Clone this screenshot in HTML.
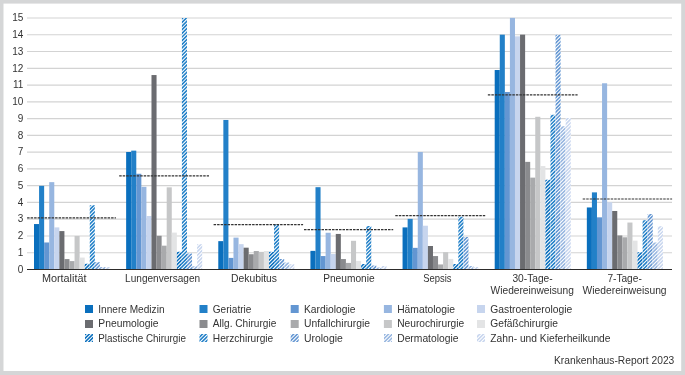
<!DOCTYPE html><html><head><meta charset="utf-8"><style>
html,body{margin:0;padding:0;background:#d5d6d7;}
svg{display:block;font-family:"Liberation Sans", sans-serif;will-change:transform;}
</style></head><body>
<svg width="685" height="375" viewBox="0 0 685 375">
<defs>
<pattern id="h0" patternUnits="userSpaceOnUse" width="2.6" height="2.6" patternTransform="rotate(45)"><rect x="0" y="0" width="2.6" height="2.6" fill="#fff"/><rect x="0" y="0" width="1.55" height="2.6" fill="#0a6fbd"/></pattern>
<pattern id="h1" patternUnits="userSpaceOnUse" width="2.6" height="2.6" patternTransform="rotate(45)"><rect x="0" y="0" width="2.6" height="2.6" fill="#fff"/><rect x="0" y="0" width="1.55" height="2.6" fill="#2280c8"/></pattern>
<pattern id="h2" patternUnits="userSpaceOnUse" width="2.6" height="2.6" patternTransform="rotate(45)"><rect x="0" y="0" width="2.6" height="2.6" fill="#fff"/><rect x="0" y="0" width="1.55" height="2.6" fill="#6396d2"/></pattern>
<pattern id="h3" patternUnits="userSpaceOnUse" width="2.6" height="2.6" patternTransform="rotate(45)"><rect x="0" y="0" width="2.6" height="2.6" fill="#fff"/><rect x="0" y="0" width="1.55" height="2.6" fill="#97b6e0"/></pattern>
<pattern id="h4" patternUnits="userSpaceOnUse" width="2.6" height="2.6" patternTransform="rotate(45)"><rect x="0" y="0" width="2.6" height="2.6" fill="#fff"/><rect x="0" y="0" width="1.55" height="2.6" fill="#c7d5ee"/></pattern>
</defs>
<rect x="0" y="0" width="685" height="375" fill="#d5d6d7"/>
<rect x="3.5" y="3.6" width="677.7" height="367.4" fill="#ffffff"/>
<line x1="27" x2="672" y1="252.69" y2="252.69" stroke="#d3d3d3" stroke-width="1.1"/>
<line x1="27" x2="672" y1="235.93" y2="235.93" stroke="#d3d3d3" stroke-width="1.1"/>
<line x1="27" x2="672" y1="219.17" y2="219.17" stroke="#d3d3d3" stroke-width="1.1"/>
<line x1="27" x2="672" y1="202.41" y2="202.41" stroke="#d3d3d3" stroke-width="1.1"/>
<line x1="27" x2="672" y1="185.65" y2="185.65" stroke="#d3d3d3" stroke-width="1.1"/>
<line x1="27" x2="672" y1="168.89" y2="168.89" stroke="#d3d3d3" stroke-width="1.1"/>
<line x1="27" x2="672" y1="152.13" y2="152.13" stroke="#d3d3d3" stroke-width="1.1"/>
<line x1="27" x2="672" y1="135.37" y2="135.37" stroke="#d3d3d3" stroke-width="1.1"/>
<line x1="27" x2="672" y1="118.61" y2="118.61" stroke="#d3d3d3" stroke-width="1.1"/>
<line x1="27" x2="672" y1="101.85" y2="101.85" stroke="#d3d3d3" stroke-width="1.1"/>
<line x1="27" x2="672" y1="85.09" y2="85.09" stroke="#d3d3d3" stroke-width="1.1"/>
<line x1="27" x2="672" y1="68.33" y2="68.33" stroke="#d3d3d3" stroke-width="1.1"/>
<line x1="27" x2="672" y1="51.57" y2="51.57" stroke="#d3d3d3" stroke-width="1.1"/>
<line x1="27" x2="672" y1="34.81" y2="34.81" stroke="#d3d3d3" stroke-width="1.1"/>
<line x1="27" x2="672" y1="18.05" y2="18.05" stroke="#d3d3d3" stroke-width="1.1"/>
<text x="23.3" y="272.70" font-size="10" fill="#333333" text-anchor="end">0</text>
<text x="23.3" y="255.94" font-size="10" fill="#333333" text-anchor="end">1</text>
<text x="23.3" y="239.18" font-size="10" fill="#333333" text-anchor="end">2</text>
<text x="23.3" y="222.42" font-size="10" fill="#333333" text-anchor="end">3</text>
<text x="23.3" y="205.66" font-size="10" fill="#333333" text-anchor="end">4</text>
<text x="23.3" y="188.90" font-size="10" fill="#333333" text-anchor="end">5</text>
<text x="23.3" y="172.14" font-size="10" fill="#333333" text-anchor="end">6</text>
<text x="23.3" y="155.38" font-size="10" fill="#333333" text-anchor="end">7</text>
<text x="23.3" y="138.62" font-size="10" fill="#333333" text-anchor="end">8</text>
<text x="23.3" y="121.86" font-size="10" fill="#333333" text-anchor="end">9</text>
<text x="23.3" y="105.10" font-size="10" fill="#333333" text-anchor="end">10</text>
<text x="23.3" y="88.34" font-size="10" fill="#333333" text-anchor="end">11</text>
<text x="23.3" y="71.58" font-size="10" fill="#333333" text-anchor="end">12</text>
<text x="23.3" y="54.82" font-size="10" fill="#333333" text-anchor="end">13</text>
<text x="23.3" y="38.06" font-size="10" fill="#333333" text-anchor="end">14</text>
<text x="23.3" y="21.30" font-size="10" fill="#333333" text-anchor="end">15</text>
<rect x="34.00" y="224.05" width="5.07" height="45.25" fill="#0a6fbd"/>
<rect x="39.07" y="185.84" width="5.07" height="83.46" fill="#2280c8"/>
<rect x="44.14" y="242.48" width="5.07" height="26.82" fill="#6396d2"/>
<rect x="49.21" y="182.15" width="5.07" height="87.15" fill="#97b6e0"/>
<rect x="54.28" y="227.40" width="5.07" height="41.90" fill="#c7d5ee"/>
<rect x="59.35" y="231.09" width="5.07" height="38.21" fill="#6b6c70"/>
<rect x="64.42" y="259.08" width="5.07" height="10.22" fill="#8a8b8e"/>
<rect x="69.49" y="261.09" width="5.07" height="8.21" fill="#a9aaac"/>
<rect x="74.56" y="235.95" width="5.07" height="33.35" fill="#c6c7c8"/>
<rect x="79.63" y="257.57" width="5.07" height="11.73" fill="#e3e4e5"/>
<rect x="84.70" y="263.77" width="5.07" height="5.53" fill="#fff"/><path clip-path="url(#c0_10)" stroke="#0a6fbd" stroke-width="1.55" d="M82.70 264.05L91.77 254.98M82.70 267.70L91.77 258.63M82.70 271.35L91.77 262.28M82.70 275.00L91.77 265.93M82.70 278.65L91.77 269.58"/>
<rect x="89.77" y="205.28" width="5.07" height="64.02" fill="#fff"/><path clip-path="url(#c0_11)" stroke="#2280c8" stroke-width="1.55" d="M87.77 204.23L96.84 195.16M87.77 207.88L96.84 198.81M87.77 211.53L96.84 202.46M87.77 215.18L96.84 206.11M87.77 218.83L96.84 209.76M87.77 222.48L96.84 213.41M87.77 226.13L96.84 217.06M87.77 229.78L96.84 220.71M87.77 233.43L96.84 224.36M87.77 237.08L96.84 228.01M87.77 240.73L96.84 231.66M87.77 244.38L96.84 235.31M87.77 248.03L96.84 238.96M87.77 251.68L96.84 242.61M87.77 255.33L96.84 246.26M87.77 258.98L96.84 249.91M87.77 262.63L96.84 253.56M87.77 266.28L96.84 257.21M87.77 269.93L96.84 260.86M87.77 273.58L96.84 264.51M87.77 277.23L96.84 268.16"/>
<rect x="94.84" y="262.26" width="5.07" height="7.04" fill="#fff"/><path clip-path="url(#c0_12)" stroke="#6396d2" stroke-width="1.55" d="M92.84 261.21L101.91 252.14M92.84 264.86L101.91 255.79M92.84 268.51L101.91 259.44M92.84 272.16L101.91 263.09M92.84 275.81L101.91 266.74M92.84 279.46L101.91 270.39"/>
<rect x="99.91" y="266.95" width="5.07" height="2.35" fill="#fff"/><path clip-path="url(#c0_13)" stroke="#97b6e0" stroke-width="1.55" d="M97.91 267.09L106.98 258.02M97.91 270.74L106.98 261.67M97.91 274.39L106.98 265.32M97.91 278.04L106.98 268.97"/>
<rect x="104.98" y="266.95" width="5.07" height="2.35" fill="#fff"/><path clip-path="url(#c0_14)" stroke="#c7d5ee" stroke-width="1.55" d="M102.98 265.67L112.05 256.60M102.98 269.32L112.05 260.25M102.98 272.97L112.05 263.90M102.98 276.62L112.05 267.55"/>
<rect x="126.14" y="151.98" width="5.07" height="117.32" fill="#0a6fbd"/>
<rect x="131.21" y="150.64" width="5.07" height="118.66" fill="#2280c8"/>
<rect x="136.28" y="173.77" width="5.07" height="95.53" fill="#6396d2"/>
<rect x="141.35" y="186.84" width="5.07" height="82.46" fill="#97b6e0"/>
<rect x="146.42" y="216.00" width="5.07" height="53.30" fill="#c7d5ee"/>
<rect x="151.49" y="75.05" width="5.07" height="194.25" fill="#6b6c70"/>
<rect x="156.56" y="235.78" width="5.07" height="33.52" fill="#8a8b8e"/>
<rect x="161.63" y="245.67" width="5.07" height="23.63" fill="#a9aaac"/>
<rect x="166.70" y="187.34" width="5.07" height="81.96" fill="#c6c7c8"/>
<rect x="171.77" y="232.60" width="5.07" height="36.70" fill="#e3e4e5"/>
<rect x="176.84" y="251.87" width="5.07" height="17.43" fill="#fff"/><path clip-path="url(#c1_10)" stroke="#0a6fbd" stroke-width="1.55" d="M174.84 252.21L183.91 243.14M174.84 255.86L183.91 246.79M174.84 259.51L183.91 250.44M174.84 263.16L183.91 254.09M174.84 266.81L183.91 257.74M174.84 270.46L183.91 261.39M174.84 274.11L183.91 265.04M174.84 277.76L183.91 268.69"/>
<rect x="181.91" y="17.90" width="5.07" height="251.40" fill="#fff"/><path clip-path="url(#c1_11)" stroke="#2280c8" stroke-width="1.55" d="M179.91 17.19L188.98 8.12M179.91 20.84L188.98 11.77M179.91 24.49L188.98 15.42M179.91 28.14L188.98 19.07M179.91 31.79L188.98 22.72M179.91 35.44L188.98 26.37M179.91 39.09L188.98 30.02M179.91 42.74L188.98 33.67M179.91 46.39L188.98 37.32M179.91 50.04L188.98 40.97M179.91 53.69L188.98 44.62M179.91 57.34L188.98 48.27M179.91 60.99L188.98 51.92M179.91 64.64L188.98 55.57M179.91 68.29L188.98 59.22M179.91 71.94L188.98 62.87M179.91 75.59L188.98 66.52M179.91 79.24L188.98 70.17M179.91 82.89L188.98 73.82M179.91 86.54L188.98 77.47M179.91 90.19L188.98 81.12M179.91 93.84L188.98 84.77M179.91 97.49L188.98 88.42M179.91 101.14L188.98 92.07M179.91 104.79L188.98 95.72M179.91 108.44L188.98 99.37M179.91 112.09L188.98 103.02M179.91 115.74L188.98 106.67M179.91 119.39L188.98 110.32M179.91 123.04L188.98 113.97M179.91 126.69L188.98 117.62M179.91 130.34L188.98 121.27M179.91 133.99L188.98 124.92M179.91 137.64L188.98 128.57M179.91 141.29L188.98 132.22M179.91 144.94L188.98 135.87M179.91 148.59L188.98 139.52M179.91 152.24L188.98 143.17M179.91 155.89L188.98 146.82M179.91 159.54L188.98 150.47M179.91 163.19L188.98 154.12M179.91 166.84L188.98 157.77M179.91 170.49L188.98 161.42M179.91 174.14L188.98 165.07M179.91 177.79L188.98 168.72M179.91 181.44L188.98 172.37M179.91 185.09L188.98 176.02M179.91 188.74L188.98 179.67M179.91 192.39L188.98 183.32M179.91 196.04L188.98 186.97M179.91 199.69L188.98 190.62M179.91 203.34L188.98 194.27M179.91 206.99L188.98 197.92M179.91 210.64L188.98 201.57M179.91 214.29L188.98 205.22M179.91 217.94L188.98 208.87M179.91 221.59L188.98 212.52M179.91 225.24L188.98 216.17M179.91 228.89L188.98 219.82M179.91 232.54L188.98 223.47M179.91 236.19L188.98 227.12M179.91 239.84L188.98 230.77M179.91 243.49L188.98 234.42M179.91 247.14L188.98 238.07M179.91 250.79L188.98 241.72M179.91 254.44L188.98 245.37M179.91 258.09L188.98 249.02M179.91 261.74L188.98 252.67M179.91 265.39L188.98 256.32M179.91 269.04L188.98 259.97M179.91 272.69L188.98 263.62M179.91 276.34L188.98 267.27M179.91 279.99L188.98 270.92"/>
<rect x="186.98" y="253.55" width="5.07" height="15.75" fill="#fff"/><path clip-path="url(#c1_12)" stroke="#6396d2" stroke-width="1.55" d="M184.98 253.02L194.05 243.95M184.98 256.67L194.05 247.60M184.98 260.32L194.05 251.25M184.98 263.97L194.05 254.90M184.98 267.62L194.05 258.55M184.98 271.27L194.05 262.20M184.98 274.92L194.05 265.85M184.98 278.57L194.05 269.50"/>
<rect x="192.05" y="266.28" width="5.07" height="3.02" fill="#fff"/><path clip-path="url(#c1_13)" stroke="#97b6e0" stroke-width="1.55" d="M190.05 266.20L199.12 257.13M190.05 269.85L199.12 260.78M190.05 273.50L199.12 264.43M190.05 277.15L199.12 268.08"/>
<rect x="197.12" y="244.16" width="5.07" height="25.14" fill="#fff"/><path clip-path="url(#c1_14)" stroke="#c7d5ee" stroke-width="1.55" d="M195.12 242.88L204.19 233.81M195.12 246.53L204.19 237.46M195.12 250.18L204.19 241.11M195.12 253.83L204.19 244.76M195.12 257.48L204.19 248.41M195.12 261.13L204.19 252.06M195.12 264.78L204.19 255.71M195.12 268.43L204.19 259.36M195.12 272.08L204.19 263.01M195.12 275.73L204.19 266.66M195.12 279.38L204.19 270.31"/>
<rect x="218.28" y="241.14" width="5.07" height="28.16" fill="#0a6fbd"/>
<rect x="223.35" y="119.97" width="5.07" height="149.33" fill="#2280c8"/>
<rect x="228.42" y="257.90" width="5.07" height="11.40" fill="#6396d2"/>
<rect x="233.49" y="237.62" width="5.07" height="31.68" fill="#97b6e0"/>
<rect x="238.56" y="244.16" width="5.07" height="25.14" fill="#c7d5ee"/>
<rect x="243.63" y="247.68" width="5.07" height="21.62" fill="#6b6c70"/>
<rect x="248.70" y="254.22" width="5.07" height="15.08" fill="#8a8b8e"/>
<rect x="253.77" y="251.03" width="5.07" height="18.27" fill="#a9aaac"/>
<rect x="258.84" y="251.87" width="5.07" height="17.43" fill="#c6c7c8"/>
<rect x="263.91" y="251.03" width="5.07" height="18.27" fill="#e3e4e5"/>
<rect x="268.98" y="251.87" width="5.07" height="17.43" fill="#fff"/><path clip-path="url(#c2_10)" stroke="#0a6fbd" stroke-width="1.55" d="M266.98 251.32L276.05 242.25M266.98 254.97L276.05 245.90M266.98 258.62L276.05 249.55M266.98 262.27L276.05 253.20M266.98 265.92L276.05 256.85M266.98 269.57L276.05 260.50M266.98 273.22L276.05 264.15M266.98 276.87L276.05 267.80"/>
<rect x="274.05" y="224.38" width="5.07" height="44.92" fill="#fff"/><path clip-path="url(#c2_11)" stroke="#2280c8" stroke-width="1.55" d="M272.05 224.35L281.12 215.28M272.05 228.00L281.12 218.93M272.05 231.65L281.12 222.58M272.05 235.30L281.12 226.23M272.05 238.95L281.12 229.88M272.05 242.60L281.12 233.53M272.05 246.25L281.12 237.18M272.05 249.90L281.12 240.83M272.05 253.55L281.12 244.48M272.05 257.20L281.12 248.13M272.05 260.85L281.12 251.78M272.05 264.50L281.12 255.43M272.05 268.15L281.12 259.08M272.05 271.80L281.12 262.73M272.05 275.45L281.12 266.38M272.05 279.10L281.12 270.03"/>
<rect x="279.12" y="259.08" width="5.07" height="10.22" fill="#fff"/><path clip-path="url(#c2_12)" stroke="#6396d2" stroke-width="1.55" d="M277.12 259.43L286.19 250.36M277.12 263.08L286.19 254.01M277.12 266.73L286.19 257.66M277.12 270.38L286.19 261.31M277.12 274.03L286.19 264.96M277.12 277.68L286.19 268.61"/>
<rect x="284.19" y="262.43" width="5.07" height="6.87" fill="#fff"/><path clip-path="url(#c2_13)" stroke="#97b6e0" stroke-width="1.55" d="M282.19 261.66L291.26 252.59M282.19 265.31L291.26 256.24M282.19 268.96L291.26 259.89M282.19 272.61L291.26 263.54M282.19 276.26L291.26 267.19M282.19 279.91L291.26 270.84"/>
<rect x="289.26" y="264.27" width="5.07" height="5.03" fill="#fff"/><path clip-path="url(#c2_14)" stroke="#c7d5ee" stroke-width="1.55" d="M287.26 263.89L296.33 254.82M287.26 267.54L296.33 258.47M287.26 271.19L296.33 262.12M287.26 274.84L296.33 265.77M287.26 278.49L296.33 269.42"/>
<rect x="310.42" y="250.86" width="5.07" height="18.44" fill="#0a6fbd"/>
<rect x="315.49" y="187.18" width="5.07" height="82.12" fill="#2280c8"/>
<rect x="320.56" y="256.06" width="5.07" height="13.24" fill="#6396d2"/>
<rect x="325.63" y="232.76" width="5.07" height="36.54" fill="#97b6e0"/>
<rect x="330.70" y="254.05" width="5.07" height="15.25" fill="#c7d5ee"/>
<rect x="335.77" y="233.94" width="5.07" height="35.36" fill="#6b6c70"/>
<rect x="340.84" y="259.08" width="5.07" height="10.22" fill="#8a8b8e"/>
<rect x="345.91" y="262.93" width="5.07" height="6.37" fill="#a9aaac"/>
<rect x="350.98" y="240.81" width="5.07" height="28.49" fill="#c6c7c8"/>
<rect x="356.05" y="260.92" width="5.07" height="8.38" fill="#e3e4e5"/>
<rect x="361.12" y="263.94" width="5.07" height="5.36" fill="#fff"/><path clip-path="url(#c3_10)" stroke="#0a6fbd" stroke-width="1.55" d="M359.12 265.03L368.19 255.96M359.12 268.68L368.19 259.61M359.12 272.33L368.19 263.26M359.12 275.98L368.19 266.91M359.12 279.63L368.19 270.56"/>
<rect x="366.19" y="225.89" width="5.07" height="43.41" fill="#fff"/><path clip-path="url(#c3_11)" stroke="#2280c8" stroke-width="1.55" d="M364.19 227.11L373.26 218.04M364.19 230.76L373.26 221.69M364.19 234.41L373.26 225.34M364.19 238.06L373.26 228.99M364.19 241.71L373.26 232.64M364.19 245.36L373.26 236.29M364.19 249.01L373.26 239.94M364.19 252.66L373.26 243.59M364.19 256.31L373.26 247.24M364.19 259.96L373.26 250.89M364.19 263.61L373.26 254.54M364.19 267.26L373.26 258.19M364.19 270.91L373.26 261.84M364.19 274.56L373.26 265.49M364.19 278.21L373.26 269.14"/>
<rect x="371.26" y="265.61" width="5.07" height="3.69" fill="#fff"/><path clip-path="url(#c3_12)" stroke="#6396d2" stroke-width="1.55" d="M369.26 265.84L378.33 256.77M369.26 269.49L378.33 260.42M369.26 273.14L378.33 264.07M369.26 276.79L378.33 267.72"/>
<rect x="376.33" y="267.46" width="5.07" height="1.84" fill="#fff"/><path clip-path="url(#c3_13)" stroke="#97b6e0" stroke-width="1.55" d="M374.33 268.07L383.40 259.00M374.33 271.72L383.40 262.65M374.33 275.37L383.40 266.30M374.33 279.02L383.40 269.95"/>
<rect x="381.40" y="265.95" width="5.07" height="3.35" fill="#fff"/><path clip-path="url(#c3_14)" stroke="#c7d5ee" stroke-width="1.55" d="M379.40 266.65L388.47 257.58M379.40 270.30L388.47 261.23M379.40 273.95L388.47 264.88M379.40 277.60L388.47 268.53"/>
<rect x="402.56" y="227.40" width="5.07" height="41.90" fill="#0a6fbd"/>
<rect x="407.63" y="218.85" width="5.07" height="50.45" fill="#2280c8"/>
<rect x="412.70" y="247.85" width="5.07" height="21.45" fill="#6396d2"/>
<rect x="417.77" y="151.98" width="5.07" height="117.32" fill="#97b6e0"/>
<rect x="422.84" y="225.72" width="5.07" height="43.58" fill="#c7d5ee"/>
<rect x="427.91" y="246.00" width="5.07" height="23.30" fill="#6b6c70"/>
<rect x="432.98" y="256.06" width="5.07" height="13.24" fill="#8a8b8e"/>
<rect x="438.05" y="264.44" width="5.07" height="4.86" fill="#a9aaac"/>
<rect x="443.12" y="252.20" width="5.07" height="17.10" fill="#c6c7c8"/>
<rect x="448.19" y="258.91" width="5.07" height="10.39" fill="#e3e4e5"/>
<rect x="453.26" y="263.94" width="5.07" height="5.36" fill="#fff"/><path clip-path="url(#c4_10)" stroke="#0a6fbd" stroke-width="1.55" d="M451.26 264.14L460.33 255.07M451.26 267.79L460.33 258.72M451.26 271.44L460.33 262.37M451.26 275.09L460.33 266.02M451.26 278.74L460.33 269.67"/>
<rect x="458.33" y="216.84" width="5.07" height="52.46" fill="#fff"/><path clip-path="url(#c4_11)" stroke="#2280c8" stroke-width="1.55" d="M456.33 215.27L465.40 206.20M456.33 218.92L465.40 209.85M456.33 222.57L465.40 213.50M456.33 226.22L465.40 217.15M456.33 229.87L465.40 220.80M456.33 233.52L465.40 224.45M456.33 237.17L465.40 228.10M456.33 240.82L465.40 231.75M456.33 244.47L465.40 235.40M456.33 248.12L465.40 239.05M456.33 251.77L465.40 242.70M456.33 255.42L465.40 246.35M456.33 259.07L465.40 250.00M456.33 262.72L465.40 253.65M456.33 266.37L465.40 257.30M456.33 270.02L465.40 260.95M456.33 273.67L465.40 264.60M456.33 277.32L465.40 268.25"/>
<rect x="463.40" y="237.12" width="5.07" height="32.18" fill="#fff"/><path clip-path="url(#c4_12)" stroke="#6396d2" stroke-width="1.55" d="M461.40 235.75L470.47 226.68M461.40 239.40L470.47 230.33M461.40 243.05L470.47 233.98M461.40 246.70L470.47 237.63M461.40 250.35L470.47 241.28M461.40 254.00L470.47 244.93M461.40 257.65L470.47 248.58M461.40 261.30L470.47 252.23M461.40 264.95L470.47 255.88M461.40 268.60L470.47 259.53M461.40 272.25L470.47 263.18M461.40 275.90L470.47 266.83M461.40 279.55L470.47 270.48"/>
<rect x="468.47" y="265.95" width="5.07" height="3.35" fill="#fff"/><path clip-path="url(#c4_13)" stroke="#97b6e0" stroke-width="1.55" d="M466.47 267.18L475.54 258.11M466.47 270.83L475.54 261.76M466.47 274.48L475.54 265.41M466.47 278.13L475.54 269.06"/>
<rect x="473.54" y="267.12" width="5.07" height="2.18" fill="#fff"/><path clip-path="url(#c4_14)" stroke="#c7d5ee" stroke-width="1.55" d="M471.54 265.76L480.61 256.69M471.54 269.41L480.61 260.34M471.54 273.06L480.61 263.99M471.54 276.71L480.61 267.64"/>
<rect x="494.70" y="70.02" width="5.07" height="199.28" fill="#0a6fbd"/>
<rect x="499.77" y="34.66" width="5.07" height="234.64" fill="#2280c8"/>
<rect x="504.84" y="91.98" width="5.07" height="177.32" fill="#6396d2"/>
<rect x="509.91" y="17.90" width="5.07" height="251.40" fill="#97b6e0"/>
<rect x="514.98" y="36.34" width="5.07" height="232.96" fill="#c7d5ee"/>
<rect x="520.05" y="34.66" width="5.07" height="234.64" fill="#6b6c70"/>
<rect x="525.12" y="161.87" width="5.07" height="107.43" fill="#8a8b8e"/>
<rect x="530.19" y="177.62" width="5.07" height="91.68" fill="#a9aaac"/>
<rect x="535.26" y="116.78" width="5.07" height="152.52" fill="#c6c7c8"/>
<rect x="540.33" y="166.06" width="5.07" height="103.24" fill="#e3e4e5"/>
<rect x="545.40" y="179.80" width="5.07" height="89.50" fill="#fff"/><path clip-path="url(#c5_10)" stroke="#0a6fbd" stroke-width="1.55" d="M543.40 179.30L552.47 170.23M543.40 182.95L552.47 173.88M543.40 186.60L552.47 177.53M543.40 190.25L552.47 181.18M543.40 193.90L552.47 184.83M543.40 197.55L552.47 188.48M543.40 201.20L552.47 192.13M543.40 204.85L552.47 195.78M543.40 208.50L552.47 199.43M543.40 212.15L552.47 203.08M543.40 215.80L552.47 206.73M543.40 219.45L552.47 210.38M543.40 223.10L552.47 214.03M543.40 226.75L552.47 217.68M543.40 230.40L552.47 221.33M543.40 234.05L552.47 224.98M543.40 237.70L552.47 228.63M543.40 241.35L552.47 232.28M543.40 245.00L552.47 235.93M543.40 248.65L552.47 239.58M543.40 252.30L552.47 243.23M543.40 255.95L552.47 246.88M543.40 259.60L552.47 250.53M543.40 263.25L552.47 254.18M543.40 266.90L552.47 257.83M543.40 270.55L552.47 261.48M543.40 274.20L552.47 265.13M543.40 277.85L552.47 268.78"/>
<rect x="550.47" y="114.77" width="5.07" height="154.53" fill="#fff"/><path clip-path="url(#c5_11)" stroke="#2280c8" stroke-width="1.55" d="M548.47 115.83L557.54 106.76M548.47 119.48L557.54 110.41M548.47 123.13L557.54 114.06M548.47 126.78L557.54 117.71M548.47 130.43L557.54 121.36M548.47 134.08L557.54 125.01M548.47 137.73L557.54 128.66M548.47 141.38L557.54 132.31M548.47 145.03L557.54 135.96M548.47 148.68L557.54 139.61M548.47 152.33L557.54 143.26M548.47 155.98L557.54 146.91M548.47 159.63L557.54 150.56M548.47 163.28L557.54 154.21M548.47 166.93L557.54 157.86M548.47 170.58L557.54 161.51M548.47 174.23L557.54 165.16M548.47 177.88L557.54 168.81M548.47 181.53L557.54 172.46M548.47 185.18L557.54 176.11M548.47 188.83L557.54 179.76M548.47 192.48L557.54 183.41M548.47 196.13L557.54 187.06M548.47 199.78L557.54 190.71M548.47 203.43L557.54 194.36M548.47 207.08L557.54 198.01M548.47 210.73L557.54 201.66M548.47 214.38L557.54 205.31M548.47 218.03L557.54 208.96M548.47 221.68L557.54 212.61M548.47 225.33L557.54 216.26M548.47 228.98L557.54 219.91M548.47 232.63L557.54 223.56M548.47 236.28L557.54 227.21M548.47 239.93L557.54 230.86M548.47 243.58L557.54 234.51M548.47 247.23L557.54 238.16M548.47 250.88L557.54 241.81M548.47 254.53L557.54 245.46M548.47 258.18L557.54 249.11M548.47 261.83L557.54 252.76M548.47 265.48L557.54 256.41M548.47 269.13L557.54 260.06M548.47 272.78L557.54 263.71M548.47 276.43L557.54 267.36"/>
<rect x="555.54" y="34.66" width="5.07" height="234.64" fill="#fff"/><path clip-path="url(#c5_12)" stroke="#6396d2" stroke-width="1.55" d="M553.54 34.11L562.61 25.04M553.54 37.76L562.61 28.69M553.54 41.41L562.61 32.34M553.54 45.06L562.61 35.99M553.54 48.71L562.61 39.64M553.54 52.36L562.61 43.29M553.54 56.01L562.61 46.94M553.54 59.66L562.61 50.59M553.54 63.31L562.61 54.24M553.54 66.96L562.61 57.89M553.54 70.61L562.61 61.54M553.54 74.26L562.61 65.19M553.54 77.91L562.61 68.84M553.54 81.56L562.61 72.49M553.54 85.21L562.61 76.14M553.54 88.86L562.61 79.79M553.54 92.51L562.61 83.44M553.54 96.16L562.61 87.09M553.54 99.81L562.61 90.74M553.54 103.46L562.61 94.39M553.54 107.11L562.61 98.04M553.54 110.76L562.61 101.69M553.54 114.41L562.61 105.34M553.54 118.06L562.61 108.99M553.54 121.71L562.61 112.64M553.54 125.36L562.61 116.29M553.54 129.01L562.61 119.94M553.54 132.66L562.61 123.59M553.54 136.31L562.61 127.24M553.54 139.96L562.61 130.89M553.54 143.61L562.61 134.54M553.54 147.26L562.61 138.19M553.54 150.91L562.61 141.84M553.54 154.56L562.61 145.49M553.54 158.21L562.61 149.14M553.54 161.86L562.61 152.79M553.54 165.51L562.61 156.44M553.54 169.16L562.61 160.09M553.54 172.81L562.61 163.74M553.54 176.46L562.61 167.39M553.54 180.11L562.61 171.04M553.54 183.76L562.61 174.69M553.54 187.41L562.61 178.34M553.54 191.06L562.61 181.99M553.54 194.71L562.61 185.64M553.54 198.36L562.61 189.29M553.54 202.01L562.61 192.94M553.54 205.66L562.61 196.59M553.54 209.31L562.61 200.24M553.54 212.96L562.61 203.89M553.54 216.61L562.61 207.54M553.54 220.26L562.61 211.19M553.54 223.91L562.61 214.84M553.54 227.56L562.61 218.49M553.54 231.21L562.61 222.14M553.54 234.86L562.61 225.79M553.54 238.51L562.61 229.44M553.54 242.16L562.61 233.09M553.54 245.81L562.61 236.74M553.54 249.46L562.61 240.39M553.54 253.11L562.61 244.04M553.54 256.76L562.61 247.69M553.54 260.41L562.61 251.34M553.54 264.06L562.61 254.99M553.54 267.71L562.61 258.64M553.54 271.36L562.61 262.29M553.54 275.01L562.61 265.94M553.54 278.66L562.61 269.59"/>
<rect x="560.61" y="126.34" width="5.07" height="142.96" fill="#fff"/><path clip-path="url(#c5_13)" stroke="#97b6e0" stroke-width="1.55" d="M558.61 127.59L567.68 118.52M558.61 131.24L567.68 122.17M558.61 134.89L567.68 125.82M558.61 138.54L567.68 129.47M558.61 142.19L567.68 133.12M558.61 145.84L567.68 136.77M558.61 149.49L567.68 140.42M558.61 153.14L567.68 144.07M558.61 156.79L567.68 147.72M558.61 160.44L567.68 151.37M558.61 164.09L567.68 155.02M558.61 167.74L567.68 158.67M558.61 171.39L567.68 162.32M558.61 175.04L567.68 165.97M558.61 178.69L567.68 169.62M558.61 182.34L567.68 173.27M558.61 185.99L567.68 176.92M558.61 189.64L567.68 180.57M558.61 193.29L567.68 184.22M558.61 196.94L567.68 187.87M558.61 200.59L567.68 191.52M558.61 204.24L567.68 195.17M558.61 207.89L567.68 198.82M558.61 211.54L567.68 202.47M558.61 215.19L567.68 206.12M558.61 218.84L567.68 209.77M558.61 222.49L567.68 213.42M558.61 226.14L567.68 217.07M558.61 229.79L567.68 220.72M558.61 233.44L567.68 224.37M558.61 237.09L567.68 228.02M558.61 240.74L567.68 231.67M558.61 244.39L567.68 235.32M558.61 248.04L567.68 238.97M558.61 251.69L567.68 242.62M558.61 255.34L567.68 246.27M558.61 258.99L567.68 249.92M558.61 262.64L567.68 253.57M558.61 266.29L567.68 257.22M558.61 269.94L567.68 260.87M558.61 273.59L567.68 264.52M558.61 277.24L567.68 268.17"/>
<rect x="565.68" y="117.96" width="5.07" height="151.34" fill="#fff"/><path clip-path="url(#c5_14)" stroke="#c7d5ee" stroke-width="1.55" d="M563.68 118.87L572.75 109.80M563.68 122.52L572.75 113.45M563.68 126.17L572.75 117.10M563.68 129.82L572.75 120.75M563.68 133.47L572.75 124.40M563.68 137.12L572.75 128.05M563.68 140.77L572.75 131.70M563.68 144.42L572.75 135.35M563.68 148.07L572.75 139.00M563.68 151.72L572.75 142.65M563.68 155.37L572.75 146.30M563.68 159.02L572.75 149.95M563.68 162.67L572.75 153.60M563.68 166.32L572.75 157.25M563.68 169.97L572.75 160.90M563.68 173.62L572.75 164.55M563.68 177.27L572.75 168.20M563.68 180.92L572.75 171.85M563.68 184.57L572.75 175.50M563.68 188.22L572.75 179.15M563.68 191.87L572.75 182.80M563.68 195.52L572.75 186.45M563.68 199.17L572.75 190.10M563.68 202.82L572.75 193.75M563.68 206.47L572.75 197.40M563.68 210.12L572.75 201.05M563.68 213.77L572.75 204.70M563.68 217.42L572.75 208.35M563.68 221.07L572.75 212.00M563.68 224.72L572.75 215.65M563.68 228.37L572.75 219.30M563.68 232.02L572.75 222.95M563.68 235.67L572.75 226.60M563.68 239.32L572.75 230.25M563.68 242.97L572.75 233.90M563.68 246.62L572.75 237.55M563.68 250.27L572.75 241.20M563.68 253.92L572.75 244.85M563.68 257.57L572.75 248.50M563.68 261.22L572.75 252.15M563.68 264.87L572.75 255.80M563.68 268.52L572.75 259.45M563.68 272.17L572.75 263.10M563.68 275.82L572.75 266.75M563.68 279.47L572.75 270.40"/>
<rect x="586.84" y="207.46" width="5.07" height="61.84" fill="#0a6fbd"/>
<rect x="591.91" y="192.37" width="5.07" height="76.93" fill="#2280c8"/>
<rect x="596.98" y="217.34" width="5.07" height="51.96" fill="#6396d2"/>
<rect x="602.05" y="83.26" width="5.07" height="186.04" fill="#97b6e0"/>
<rect x="607.12" y="202.26" width="5.07" height="67.04" fill="#c7d5ee"/>
<rect x="612.19" y="210.98" width="5.07" height="58.32" fill="#6b6c70"/>
<rect x="617.26" y="235.44" width="5.07" height="33.86" fill="#8a8b8e"/>
<rect x="622.33" y="237.29" width="5.07" height="32.01" fill="#a9aaac"/>
<rect x="627.40" y="222.54" width="5.07" height="46.76" fill="#c6c7c8"/>
<rect x="632.47" y="240.64" width="5.07" height="28.66" fill="#e3e4e5"/>
<rect x="637.54" y="252.20" width="5.07" height="17.10" fill="#fff"/><path clip-path="url(#c6_10)" stroke="#0a6fbd" stroke-width="1.55" d="M635.54 251.41L644.61 242.34M635.54 255.06L644.61 245.99M635.54 258.71L644.61 249.64M635.54 262.36L644.61 253.29M635.54 266.01L644.61 256.94M635.54 269.66L644.61 260.59M635.54 273.31L644.61 264.24M635.54 276.96L644.61 267.89"/>
<rect x="642.61" y="220.19" width="5.07" height="49.11" fill="#fff"/><path clip-path="url(#c6_11)" stroke="#2280c8" stroke-width="1.55" d="M640.61 220.79L649.68 211.72M640.61 224.44L649.68 215.37M640.61 228.09L649.68 219.02M640.61 231.74L649.68 222.67M640.61 235.39L649.68 226.32M640.61 239.04L649.68 229.97M640.61 242.69L649.68 233.62M640.61 246.34L649.68 237.27M640.61 249.99L649.68 240.92M640.61 253.64L649.68 244.57M640.61 257.29L649.68 248.22M640.61 260.94L649.68 251.87M640.61 264.59L649.68 255.52M640.61 268.24L649.68 259.17M640.61 271.89L649.68 262.82M640.61 275.54L649.68 266.47M640.61 279.19L649.68 270.12"/>
<rect x="647.68" y="213.99" width="5.07" height="55.31" fill="#fff"/><path clip-path="url(#c6_12)" stroke="#6396d2" stroke-width="1.55" d="M645.68 215.72L654.75 206.65M645.68 219.37L654.75 210.30M645.68 223.02L654.75 213.95M645.68 226.67L654.75 217.60M645.68 230.32L654.75 221.25M645.68 233.97L654.75 224.90M645.68 237.62L654.75 228.55M645.68 241.27L654.75 232.20M645.68 244.92L654.75 235.85M645.68 248.57L654.75 239.50M645.68 252.22L654.75 243.15M645.68 255.87L654.75 246.80M645.68 259.52L654.75 250.45M645.68 263.17L654.75 254.10M645.68 266.82L654.75 257.75M645.68 270.47L654.75 261.40M645.68 274.12L654.75 265.05M645.68 277.77L654.75 268.70"/>
<rect x="652.75" y="242.48" width="5.07" height="26.82" fill="#fff"/><path clip-path="url(#c6_13)" stroke="#97b6e0" stroke-width="1.55" d="M650.75 243.50L659.82 234.43M650.75 247.15L659.82 238.08M650.75 250.80L659.82 241.73M650.75 254.45L659.82 245.38M650.75 258.10L659.82 249.03M650.75 261.75L659.82 252.68M650.75 265.40L659.82 256.33M650.75 269.05L659.82 259.98M650.75 272.70L659.82 263.63M650.75 276.35L659.82 267.28M650.75 280.00L659.82 270.93"/>
<rect x="657.82" y="226.23" width="5.07" height="43.07" fill="#fff"/><path clip-path="url(#c6_14)" stroke="#c7d5ee" stroke-width="1.55" d="M655.82 227.48L664.89 218.41M655.82 231.13L664.89 222.06M655.82 234.78L664.89 225.71M655.82 238.43L664.89 229.36M655.82 242.08L664.89 233.01M655.82 245.73L664.89 236.66M655.82 249.38L664.89 240.31M655.82 253.03L664.89 243.96M655.82 256.68L664.89 247.61M655.82 260.33L664.89 251.26M655.82 263.98L664.89 254.91M655.82 267.63L664.89 258.56M655.82 271.28L664.89 262.21M655.82 274.93L664.89 265.86M655.82 278.58L664.89 269.51"/>
<line x1="27" x2="672" y1="269.5" y2="269.5" stroke="#2d2b2a" stroke-width="1.05"/>
<line x1="27.10" x2="115.90" y1="217.90" y2="217.90" stroke="#333333" stroke-width="1.2" stroke-dasharray="2.5 1.0"/>
<line x1="119.20" x2="209.00" y1="175.87" y2="175.87" stroke="#333333" stroke-width="1.2" stroke-dasharray="2.5 1.0"/>
<line x1="213.60" x2="303.10" y1="224.57" y2="224.57" stroke="#333333" stroke-width="1.2" stroke-dasharray="2.5 1.0"/>
<line x1="304.00" x2="393.20" y1="229.55" y2="229.55" stroke="#333333" stroke-width="1.2" stroke-dasharray="2.5 1.0"/>
<line x1="395.30" x2="485.20" y1="215.55" y2="215.55" stroke="#333333" stroke-width="1.2" stroke-dasharray="2.5 1.0"/>
<line x1="487.85" x2="577.60" y1="94.90" y2="94.90" stroke="#333333" stroke-width="1.2" stroke-dasharray="2.5 1.0"/>
<line x1="582.70" x2="672.10" y1="199.00" y2="199.00" stroke="#333333" stroke-width="1.2" stroke-dasharray="2.5 1.0"/>
<text x="41.90" y="281.70" font-size="10.5" fill="#333333" textLength="44.60" lengthAdjust="spacingAndGlyphs">Mortalität</text>
<text x="125.10" y="281.50" font-size="10.5" fill="#333333" textLength="75.00" lengthAdjust="spacingAndGlyphs">Lungenversagen</text>
<text x="231.00" y="281.50" font-size="10.5" fill="#333333" textLength="46.00" lengthAdjust="spacingAndGlyphs">Dekubitus</text>
<text x="323.20" y="281.50" font-size="10.5" fill="#333333" textLength="51.40" lengthAdjust="spacingAndGlyphs">Pneumonie</text>
<text x="423.20" y="281.50" font-size="10.5" fill="#333333" textLength="28.30" lengthAdjust="spacingAndGlyphs">Sepsis</text>
<text x="512.40" y="281.70" font-size="10.5" fill="#333333" textLength="40.30" lengthAdjust="spacingAndGlyphs">30-Tage-</text>
<text x="490.60" y="294.10" font-size="10.5" fill="#333333" textLength="83.20" lengthAdjust="spacingAndGlyphs">Wiedereinweisung</text>
<text x="607.40" y="281.70" font-size="10.5" fill="#333333" textLength="34.40" lengthAdjust="spacingAndGlyphs">7-Tage-</text>
<text x="582.60" y="294.10" font-size="10.5" fill="#333333" textLength="84.00" lengthAdjust="spacingAndGlyphs">Wiedereinweisung</text>
<rect x="85.00" y="305.00" width="8" height="8" fill="#0a6fbd"/>
<text x="98.30" y="312.80" font-size="10.2" fill="#333333" textLength="66.20" lengthAdjust="spacingAndGlyphs">Innere Medizin</text>
<rect x="199.50" y="305.00" width="8" height="8" fill="#2280c8"/>
<text x="212.80" y="312.80" font-size="10.2" fill="#333333" textLength="38.60" lengthAdjust="spacingAndGlyphs">Geriatrie</text>
<rect x="290.70" y="305.00" width="8" height="8" fill="#6396d2"/>
<text x="304.00" y="312.80" font-size="10.2" fill="#333333" textLength="51.50" lengthAdjust="spacingAndGlyphs">Kardiologie</text>
<rect x="383.90" y="305.00" width="8" height="8" fill="#97b6e0"/>
<text x="397.20" y="312.80" font-size="10.2" fill="#333333" textLength="57.80" lengthAdjust="spacingAndGlyphs">Hämatologie</text>
<rect x="477.00" y="305.00" width="8" height="8" fill="#c7d5ee"/>
<text x="490.30" y="312.80" font-size="10.2" fill="#333333" textLength="82.00" lengthAdjust="spacingAndGlyphs">Gastroenterologie</text>
<rect x="85.00" y="320.00" width="8" height="8" fill="#6b6c70"/>
<text x="98.30" y="327.00" font-size="10.2" fill="#333333" textLength="60.20" lengthAdjust="spacingAndGlyphs">Pneumologie</text>
<rect x="199.50" y="320.00" width="8" height="8" fill="#8a8b8e"/>
<text x="212.80" y="327.00" font-size="10.2" fill="#333333" textLength="63.50" lengthAdjust="spacingAndGlyphs">Allg. Chirurgie</text>
<rect x="290.70" y="320.00" width="8" height="8" fill="#a9aaac"/>
<text x="304.00" y="327.00" font-size="10.2" fill="#333333" textLength="66.10" lengthAdjust="spacingAndGlyphs">Unfallchirurgie</text>
<rect x="383.90" y="320.00" width="8" height="8" fill="#c6c7c8"/>
<text x="397.20" y="327.00" font-size="10.2" fill="#333333" textLength="67.00" lengthAdjust="spacingAndGlyphs">Neurochirurgie</text>
<rect x="477.00" y="320.00" width="8" height="8" fill="#e3e4e5"/>
<text x="490.30" y="327.00" font-size="10.2" fill="#333333" textLength="67.70" lengthAdjust="spacingAndGlyphs">Gefäßchirurgie</text>
<rect x="85.00" y="334.00" width="8.00" height="8.00" fill="#fff"/><path clip-path="url(#l10)" stroke="#0a6fbd" stroke-width="1.55" d="M83.00 333.10L95.00 321.10M83.00 336.75L95.00 324.75M83.00 340.40L95.00 328.40M83.00 344.05L95.00 332.05M83.00 347.70L95.00 335.70M83.00 351.35L95.00 339.35M83.00 355.00L95.00 343.00"/>
<text x="98.30" y="341.70" font-size="10.2" fill="#333333" textLength="87.60" lengthAdjust="spacingAndGlyphs">Plastische Chirurgie</text>
<rect x="199.50" y="334.00" width="8.00" height="8.00" fill="#fff"/><path clip-path="url(#l11)" stroke="#2280c8" stroke-width="1.55" d="M197.50 335.40L209.50 323.40M197.50 339.05L209.50 327.05M197.50 342.70L209.50 330.70M197.50 346.35L209.50 334.35M197.50 350.00L209.50 338.00M197.50 353.65L209.50 341.65"/>
<text x="212.80" y="341.70" font-size="10.2" fill="#333333" textLength="60.40" lengthAdjust="spacingAndGlyphs">Herzchirurgie</text>
<rect x="290.70" y="334.00" width="8.00" height="8.00" fill="#fff"/><path clip-path="url(#l12)" stroke="#6396d2" stroke-width="1.55" d="M288.70 335.45L300.70 323.45M288.70 339.10L300.70 327.10M288.70 342.75L300.70 330.75M288.70 346.40L300.70 334.40M288.70 350.05L300.70 338.05M288.70 353.70L300.70 341.70"/>
<text x="304.00" y="341.70" font-size="10.2" fill="#333333" textLength="38.80" lengthAdjust="spacingAndGlyphs">Urologie</text>
<rect x="383.90" y="334.00" width="8.00" height="8.00" fill="#fff"/><path clip-path="url(#l13)" stroke="#97b6e0" stroke-width="1.55" d="M381.90 333.50L393.90 321.50M381.90 337.15L393.90 325.15M381.90 340.80L393.90 328.80M381.90 344.45L393.90 332.45M381.90 348.10L393.90 336.10M381.90 351.75L393.90 339.75M381.90 355.40L393.90 343.40"/>
<text x="397.20" y="341.70" font-size="10.2" fill="#333333" textLength="61.30" lengthAdjust="spacingAndGlyphs">Dermatologie</text>
<rect x="477.00" y="334.00" width="8.00" height="8.00" fill="#fff"/><path clip-path="url(#l14)" stroke="#c7d5ee" stroke-width="1.55" d="M475.00 335.30L487.00 323.30M475.00 338.95L487.00 326.95M475.00 342.60L487.00 330.60M475.00 346.25L487.00 334.25M475.00 349.90L487.00 337.90M475.00 353.55L487.00 341.55"/>
<text x="490.30" y="341.70" font-size="10.2" fill="#333333" textLength="120.20" lengthAdjust="spacingAndGlyphs">Zahn- und Kieferheilkunde</text>
<text x="554.0" y="363.6" font-size="11" fill="#333333" textLength="120.3" lengthAdjust="spacingAndGlyphs">Krankenhaus-Report 2023</text>
<defs><clipPath id="c0_10"><rect x="84.70" y="263.77" width="5.07" height="5.53"/></clipPath><clipPath id="c0_11"><rect x="89.77" y="205.28" width="5.07" height="64.02"/></clipPath><clipPath id="c0_12"><rect x="94.84" y="262.26" width="5.07" height="7.04"/></clipPath><clipPath id="c0_13"><rect x="99.91" y="266.95" width="5.07" height="2.35"/></clipPath><clipPath id="c0_14"><rect x="104.98" y="266.95" width="5.07" height="2.35"/></clipPath><clipPath id="c1_10"><rect x="176.84" y="251.87" width="5.07" height="17.43"/></clipPath><clipPath id="c1_11"><rect x="181.91" y="17.90" width="5.07" height="251.40"/></clipPath><clipPath id="c1_12"><rect x="186.98" y="253.55" width="5.07" height="15.75"/></clipPath><clipPath id="c1_13"><rect x="192.05" y="266.28" width="5.07" height="3.02"/></clipPath><clipPath id="c1_14"><rect x="197.12" y="244.16" width="5.07" height="25.14"/></clipPath><clipPath id="c2_10"><rect x="268.98" y="251.87" width="5.07" height="17.43"/></clipPath><clipPath id="c2_11"><rect x="274.05" y="224.38" width="5.07" height="44.92"/></clipPath><clipPath id="c2_12"><rect x="279.12" y="259.08" width="5.07" height="10.22"/></clipPath><clipPath id="c2_13"><rect x="284.19" y="262.43" width="5.07" height="6.87"/></clipPath><clipPath id="c2_14"><rect x="289.26" y="264.27" width="5.07" height="5.03"/></clipPath><clipPath id="c3_10"><rect x="361.12" y="263.94" width="5.07" height="5.36"/></clipPath><clipPath id="c3_11"><rect x="366.19" y="225.89" width="5.07" height="43.41"/></clipPath><clipPath id="c3_12"><rect x="371.26" y="265.61" width="5.07" height="3.69"/></clipPath><clipPath id="c3_13"><rect x="376.33" y="267.46" width="5.07" height="1.84"/></clipPath><clipPath id="c3_14"><rect x="381.40" y="265.95" width="5.07" height="3.35"/></clipPath><clipPath id="c4_10"><rect x="453.26" y="263.94" width="5.07" height="5.36"/></clipPath><clipPath id="c4_11"><rect x="458.33" y="216.84" width="5.07" height="52.46"/></clipPath><clipPath id="c4_12"><rect x="463.40" y="237.12" width="5.07" height="32.18"/></clipPath><clipPath id="c4_13"><rect x="468.47" y="265.95" width="5.07" height="3.35"/></clipPath><clipPath id="c4_14"><rect x="473.54" y="267.12" width="5.07" height="2.18"/></clipPath><clipPath id="c5_10"><rect x="545.40" y="179.80" width="5.07" height="89.50"/></clipPath><clipPath id="c5_11"><rect x="550.47" y="114.77" width="5.07" height="154.53"/></clipPath><clipPath id="c5_12"><rect x="555.54" y="34.66" width="5.07" height="234.64"/></clipPath><clipPath id="c5_13"><rect x="560.61" y="126.34" width="5.07" height="142.96"/></clipPath><clipPath id="c5_14"><rect x="565.68" y="117.96" width="5.07" height="151.34"/></clipPath><clipPath id="c6_10"><rect x="637.54" y="252.20" width="5.07" height="17.10"/></clipPath><clipPath id="c6_11"><rect x="642.61" y="220.19" width="5.07" height="49.11"/></clipPath><clipPath id="c6_12"><rect x="647.68" y="213.99" width="5.07" height="55.31"/></clipPath><clipPath id="c6_13"><rect x="652.75" y="242.48" width="5.07" height="26.82"/></clipPath><clipPath id="c6_14"><rect x="657.82" y="226.23" width="5.07" height="43.07"/></clipPath><clipPath id="l10"><rect x="85.00" y="334.00" width="8.00" height="8.00"/></clipPath><clipPath id="l11"><rect x="199.50" y="334.00" width="8.00" height="8.00"/></clipPath><clipPath id="l12"><rect x="290.70" y="334.00" width="8.00" height="8.00"/></clipPath><clipPath id="l13"><rect x="383.90" y="334.00" width="8.00" height="8.00"/></clipPath><clipPath id="l14"><rect x="477.00" y="334.00" width="8.00" height="8.00"/></clipPath></defs>
</svg></body></html>
